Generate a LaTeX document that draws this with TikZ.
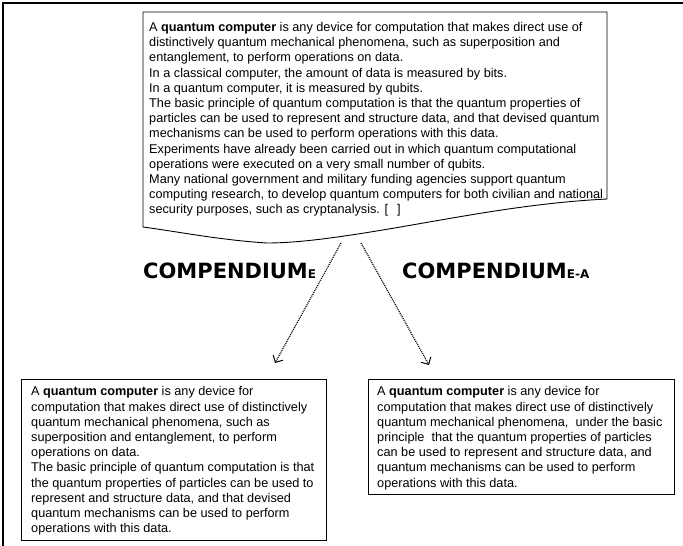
\documentclass[tikz,border=0pt]{standalone}
\usepackage{fontspec}
\setmainfont{Liberation Sans}
\newfontfamily\lblfont{DejaVu Sans}
\usetikzlibrary{arrows.meta}
\begin{document}
\begin{tikzpicture}[x=1pt,y=-1pt,
  txt/.style={inner sep=0pt, anchor=north west, align=left, font=\fontsize{12.7}{15.2}\selectfont},
  boxline/.style={draw=black, line width=0.9pt},
  shadow/.style={fill=black!45},
  lbl/.style={font=\lblfont\bfseries\fontsize{21}{22}\selectfont, inner sep=0pt, anchor=base west},
  conn/.style={line width=1.2pt, dash pattern=on 1pt off 1pt, -{Straight Barb[length=5.5pt,width=11pt,line width=1pt]}}
]
\useasboundingbox (0,0) rectangle (683,546);
% outer frame (top and left only)
\draw[line width=2.4pt] (683,3) -- (3,3) -- (3,546);

% document shape
\draw[boxline] (143,12) -- (607,12) -- (607,199)
  .. controls (507,204) and (420,226) .. (330,238)
  .. controls (300,242) and (280,243) .. (267,243)
  .. controls (220,240) and (180,232) .. (143,227) -- cycle;
\node[txt] (top) at (149,22) {A \textbf{quantum computer} is any device for computation that makes direct use of\\
distinctively quantum mechanical phenomena, such as superposition and\\
entanglement, to perform operations on data.\\
In a classical computer, the amount of data is measured by bits.\\
In a quantum computer, it is measured by qubits.\\
The basic principle of quantum computation is that the quantum properties of\\
particles can be used to represent and structure data, and that devised quantum\\
mechanisms can be used to perform operations with this data.\\
Experiments have already been carried out in which quantum computational\\
operations were executed on a very small number of qubits.\\
Many national government and military funding agencies support quantum\\
computing research, to develop quantum computers for both civilian and national\\
security purposes, such as cryptanalysis. [\hspace{9pt}]};
\coordinate (srcL) at (341,243);
\coordinate (srcR) at (361,243);

% labels
\node[lbl] (lblE) at (143,278) {COMPENDIUM{\fontsize{12}{12}\selectfont E}};
\node[lbl] (lblEA) at (402,278) {COMPENDIUM{\fontsize{12}{12}\selectfont E-A}};

% connectors
\coordinate (endL) at (275,363);
\coordinate (endR) at (429,365);
\draw[conn] (srcL) -- (endL);
\draw[conn] (srcR) -- (endR);

% bottom-left box
\fill[shadow] (22.3,380.3) rectangle (327.3,541.3);
\node[boxline, fill=white, anchor=north west, minimum width=305pt, minimum height=161pt, inner sep=0pt] (boxL) at (21,379) {};
\node[txt] (textL) at (31,386.5) {A \textbf{quantum computer} is any device for\\
computation that makes direct use of distinctively\\
quantum mechanical phenomena, such as\\
superposition and entanglement, to perform\\
operations on data.\\
The basic principle of quantum computation is that\\
the quantum properties of particles can be used to\\
represent and structure data, and that devised\\
quantum mechanisms can be used to perform\\
operations with this data.};

% bottom-right box
\fill[shadow] (369.3,380.3) rectangle (675.3,495.3);
\node[boxline, fill=white, anchor=north west, minimum width=306pt, minimum height=115pt, inner sep=0pt] (boxR) at (368,379) {};
\node[txt] (textR) at (377,386.5) {A \textbf{quantum computer} is any device for\\
computation that makes direct use of distinctively\\
quantum mechanical phenomena,\ \ under the basic\\
principle\ \ that the quantum properties of particles\\
can be used to represent and structure data, and\\
quantum mechanisms can be used to perform\\
operations with this data.};
\end{tikzpicture}
\end{document}
